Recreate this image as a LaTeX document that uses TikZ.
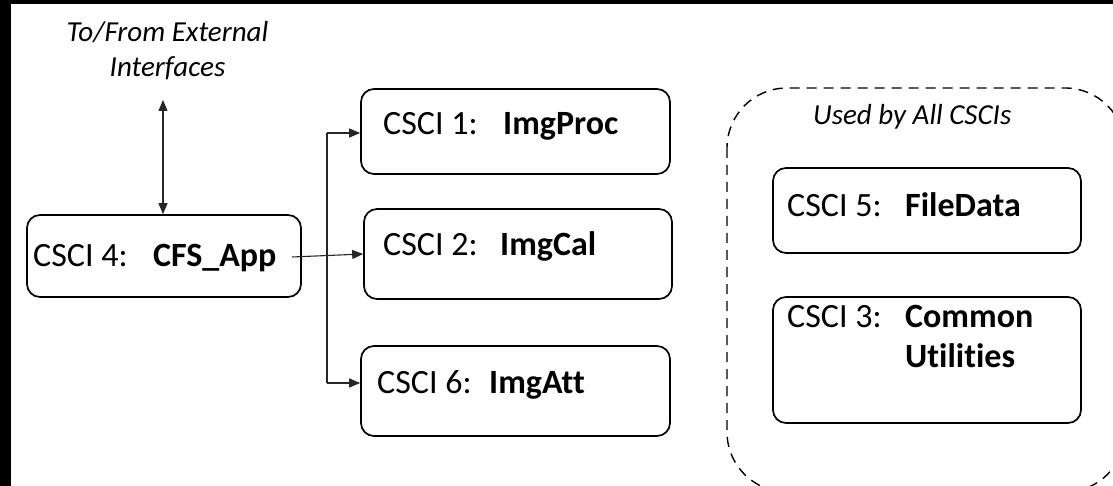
\documentclass[tikz,border=0pt]{standalone}
\usepackage{fontspec}
\setmainfont{Carlito}[Ligatures={NoCommon}]
\usetikzlibrary{arrows.meta,calc}

\tikzset{
  csci/.style={draw=black, line width=1.7pt, rounded corners=13pt, inner sep=0pt},
  group/.style={draw=black, line width=1.4pt, rounded corners=60pt, dash pattern=on 10pt off 7pt},
  lbl/.style={anchor=base west, inner sep=0pt, font=\fontsize{34}{40}\selectfont},
  boldlbl/.style={lbl, font=\fontsize{34}{40}\selectfont\bfseries},
  note/.style={inner sep=0pt, font=\fontsize{29}{36}\selectfont\itshape},
  link/.style={draw=black!85, line width=1.1pt},
  arr/.style={link, -{Triangle[length=11pt,width=9pt]}},
  darr/.style={link, {Triangle[length=11pt,width=9pt]}-{Triangle[length=11pt,width=9pt]}},
}

\begin{document}
\begin{tikzpicture}[x=1pt,y=-1pt]
\useasboundingbox (0,0) rectangle (1113,486);
\begin{scope}
\clip (0,0) rectangle (1113,486);

% frame edges
\fill[black] (0,0) rectangle (1113,4);
\fill[black] (0,0) rectangle (11,486);

% external interface label
\node[note, anchor=base] (ext1) at (167.5,42) {To/From External};
\node[note, anchor=base] (ext2) at (167.5,77) {Interfaces};
\coordinate (extend) at (163,100);

% application box
\node[csci, minimum width=274pt, minimum height=82pt] (app) at (164,256) {};
\node[lbl]     (appid)   at (33,267)  {CSCI 4:};
\node[boldlbl] (appname) at (153,267) {CFS\_App};

% image processing boxes
\node[csci, minimum width=309pt, minimum height=85pt] (proc) at (515.5,131.5) {};
\node[lbl]     (procid)   at (383,135) {CSCI 1:};
\node[boldlbl] (procname) at (503,135) {ImgProc};

\node[csci, minimum width=308pt, minimum height=90pt] (cal) at (518,254) {};
\node[lbl]     (calid)   at (383,256) {CSCI 2:};
\node[boldlbl] (calname) at (500,256) {ImgCal};

\node[csci, minimum width=309pt, minimum height=90pt] (att) at (515.5,391) {};
\node[lbl]     (attid)   at (377,393) {CSCI 6:};
\node[boldlbl] (attname) at (489,393) {ImgAtt};

% shared components
\path[group] (727,88) rectangle (1125,492);
\node[note, anchor=base west] (shared) at (813,125) {Used by All CSCIs};

\node[csci, minimum width=308pt, minimum height=85pt] (file) at (927,210.5) {};
\node[lbl]     (fileid)   at (787,217) {CSCI 5:};
\node[boldlbl] (filename) at (905,217) {FileData};

\node[csci, minimum width=308pt, minimum height=126pt] (util) at (927,360) {};
\node[lbl]     (utilid)    at (787,327) {CSCI 3:};
\node[boldlbl] (utilname)  at (905,327) {Common};
\node[boldlbl] (utilname2) at (905,367) {Utilities};

% connectors
\draw[darr] (extend) -- (app.north -| extend);

\coordinate (out)  at (292,257);
\coordinate (jtop) at (327,133);
\coordinate (jbot) at (327,383);
\draw[arr] (out) -- (cal.west);
\draw[link] (jtop) -- (jbot);
\draw[arr] (jtop) -- (jtop -| proc.west);
\draw[arr] (jbot) -- (jbot -| att.west);
\end{scope}
\end{tikzpicture}
\end{document}
